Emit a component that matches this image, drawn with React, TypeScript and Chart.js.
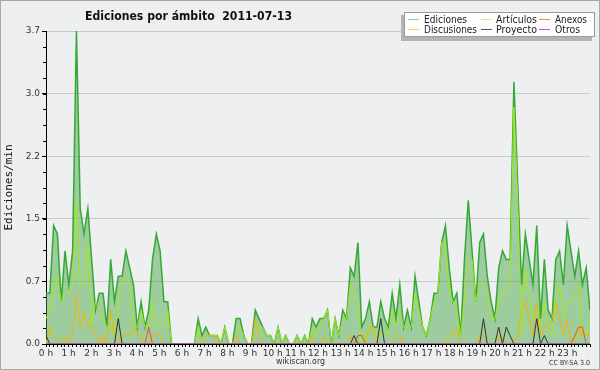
import { useEffect, useRef } from 'react';
import { Chart, registerables } from 'chart.js';
Chart.register(...registerables);

const TITLE = 'Ediciones por ámbito  2011-07-13';
const Y_LABEL = 'Ediciones/min';
const HOUR_LABELS = Array.from({ length: 24 }, (_, h) => `${h} h`);
const Y_TICKS = [0, 0.74, 1.48, 2.22, 2.96, 3.7];
const Y_MAX = 3.7;

const EDICIONES = [
  0.6, 0.6, 1.4, 1.3, 0.5, 1.1, 0.7, 1.1, 3.7, 1.6, 1.3, 1.6, 1.0, 0.4, 0.6, 0.6, 0.2, 1.0, 0.5, 0.8, 0.8, 1.1, 0.9, 0.7,
  0.2, 0.5, 0.2, 0.4, 1.0, 1.3, 1.1, 0.5, 0.5, 0, 0, 0, 0, 0, 0, 0, 0.3, 0.1, 0.2, 0.1, 0.1, 0.1, 0, 0.2,
  0, 0, 0.3, 0.3, 0.1, 0, 0, 0.4, 0.3, 0.2, 0.1, 0.1, 0, 0.2, 0, 0.1, 0, 0, 0.1, 0, 0.1, 0, 0.3, 0.2,
  0.3, 0.3, 0.4, 0, 0.3, 0.1, 0.4, 0.3, 0.9, 0.8, 1.2, 0.2, 0.3, 0.5, 0.2, 0.2, 0.5, 0.3, 0.2, 0.6, 0.3, 0.7,
  0.2, 0.4, 0.2, 0.8, 0.5, 0.2, 0.1, 0.3, 0.6, 0.6, 1.2, 1.4, 0.9, 0.5, 0.6, 0.1, 1.0, 1.7, 1.1, 0.5, 1.2, 1.3,
  0.8, 0.5, 0.3, 0.9, 1.1, 1.0, 1.0, 3.1, 1.9, 0.7, 1.3, 1.0, 0.7, 1.4, 0.3, 1.0, 0.4, 0.3, 1.0, 1.1, 0.7, 1.4,
  1.1, 0.8, 1.1, 0.7, 0.9, 0.4,
];
const ARTICULOS = [
  0.3, 0.4, 0.6, 0.8, 0.5, 0.6, 0.6, 0.7, 1.7, 0.7, 0.7, 1.2, 0.2, 0.5, 0.4, 0.3, 0.2, 0.2, 0.1, 0.5, 0.7, 0.8, 0.7, 0.2,
  0.2, 0.4, 0.2, 0.2, 0.5, 0.2, 0.2, 0.2, 0.4, 0, 0, 0, 0, 0, 0, 0, 0.2, 0, 0.1, 0.1, 0.1, 0.1, 0, 0.2,
  0, 0, 0.1, 0.2, 0.1, 0, 0, 0.1, 0.2, 0.2, 0.1, 0.1, 0, 0.2, 0, 0.1, 0, 0, 0.1, 0, 0.1, 0, 0.2, 0.1,
  0.2, 0.3, 0.4, 0, 0.3, 0.1, 0.3, 0.3, 0.7, 0.6, 0.4, 0, 0.1, 0.2, 0.2, 0.1, 0.1, 0.2, 0.1, 0.4, 0.2, 0.4,
  0.2, 0.2, 0.2, 0.6, 0.4, 0.2, 0.1, 0.3, 0.5, 0.6, 1.2, 1.2, 0.6, 0.5, 0.4, 0.1, 0.5, 1.0, 1.0, 0.5, 0.7, 0.7,
  0.6, 0.3, 0.3, 0.5, 0.6, 0.6, 0.8, 2.8, 1.7, 0.1, 0.9, 0.5, 0.3, 0.4, 0.2, 0.5, 0.2, 0.1, 0.4, 0.7, 0.3, 0.5,
  0.5, 0.6, 0.7, 0.1, 0.1, 0.3,
];
const DISCUSIONES = [
  0, 0.2, 0.1, 0, 0, 0.1, 0, 0.1, 0.6, 0.2, 0.4, 0.2, 0.2, 0.1, 0, 0.1, 0, 0.4, 0.1, 0, 0.1, 0.1, 0.1, 0.2,
  0.1, 0.1, 0, 0, 0.1, 0.1, 0.1, 0, 0, 0, 0, 0, 0, 0, 0, 0, 0, 0, 0.1, 0.1, 0.1, 0, 0, 0,
  0, 0, 0.1, 0, 0, 0, 0, 0.3, 0.1, 0, 0, 0, 0, 0, 0, 0, 0, 0, 0, 0, 0, 0, 0.1, 0,
  0, 0.1, 0, 0, 0, 0, 0, 0, 0.1, 0, 0, 0, 0, 0.2, 0.2, 0, 0, 0, 0, 0, 0.1, 0.1,
  0, 0, 0, 0, 0, 0, 0, 0, 0, 0, 0, 0, 0.1, 0.1, 0.2, 0, 0, 0, 0, 0, 0.1, 0.1,
  0, 0, 0, 0.1, 0.1, 0, 0, 0, 0.1, 0.4, 0.5, 0.3, 0.1, 0.5, 0.1, 0.2, 0.2, 0.3, 0.5, 0.3, 0.1, 0.3,
  0, 0, 0.2, 0.1, 0.1, 0.1,
];
const PROYECTO = [
  0.1, 0, 0, 0, 0, 0, 0, 0, 0, 0, 0, 0, 0, 0, 0, 0, 0, 0, 0, 0.3, 0, 0, 0, 0,
  0, 0, 0, 0, 0, 0, 0, 0, 0, 0, 0, 0, 0, 0, 0, 0, 0, 0, 0, 0, 0, 0, 0, 0,
  0, 0, 0, 0, 0, 0, 0, 0, 0, 0, 0, 0, 0, 0, 0, 0, 0, 0, 0, 0, 0, 0, 0, 0,
  0, 0, 0, 0, 0, 0, 0, 0, 0, 0.1, 0, 0, 0, 0, 0, 0, 0.3, 0, 0, 0, 0, 0,
  0, 0, 0, 0, 0, 0, 0, 0, 0, 0, 0, 0, 0, 0, 0, 0, 0, 0, 0, 0, 0, 0.3,
  0, 0, 0, 0.2, 0, 0.2, 0.1, 0, 0, 0, 0, 0, 0, 0.3, 0, 0.1, 0, 0, 0, 0, 0, 0,
  0, 0, 0, 0, 0, 0,
];
const ANEXOS = [
  0, 0, 0, 0, 0, 0, 0, 0, 0, 0, 0, 0, 0, 0, 0, 0, 0, 0, 0, 0, 0, 0, 0, 0,
  0, 0, 0, 0.2, 0, 0, 0, 0, 0, 0, 0, 0, 0, 0, 0, 0, 0, 0, 0, 0, 0, 0, 0, 0,
  0, 0, 0, 0, 0, 0, 0, 0, 0, 0, 0, 0, 0, 0, 0, 0, 0, 0, 0, 0, 0, 0, 0, 0,
  0, 0, 0, 0, 0, 0, 0, 0, 0, 0, 0.1, 0.1, 0, 0, 0, 0, 0, 0, 0, 0, 0, 0,
  0, 0, 0, 0, 0, 0, 0, 0, 0, 0, 0, 0, 0, 0, 0, 0, 0, 0, 0, 0, 0, 0,
  0, 0, 0, 0, 0, 0, 0, 0, 0, 0, 0, 0, 0, 0, 0, 0, 0, 0, 0, 0, 0, 0,
  0, 0.1, 0.2, 0.2, 0, 0,
];
const OTROS = new Array(144).fill(0);

const LEGEND = [
  { label: 'Ediciones', color: '#8fd08f', col: 0, row: 0 },
  { label: 'Artículos', color: '#d4f07a', col: 1, row: 0 },
  { label: 'Anexos', color: '#f08a5a', col: 2, row: 0 },
  { label: 'Discusiones', color: '#f8d050', col: 0, row: 1 },
  { label: 'Proyecto', color: '#555555', col: 1, row: 1 },
  { label: 'Otros', color: '#a060f0', col: 2, row: 1 },
];

const BG = '#eeeff0';

function toPoints(arr: number[]) {
  const n = arr.length;
  return arr.map((v, i) => ({ x: (i * 24) / (n - 1), y: v }));
}

function fitText(ctx: CanvasRenderingContext2D, text: string, x: number, y: number, w: number) {
  const m = ctx.measureText(text).width;
  const s = w / m;
  ctx.save();
  ctx.translate(x, y);
  ctx.scale(s, 1);
  ctx.fillText(text, 0, 0);
  ctx.restore();
}

const decorPlugin = {
  id: 'decor',
  beforeDraw(chart: any) {
    const ctx = chart.ctx as CanvasRenderingContext2D;
    ctx.save();
    ctx.fillStyle = BG;
    ctx.fillRect(0, 0, chart.width, chart.height);
    ctx.strokeStyle = '#a8a8a8';
    ctx.lineWidth = 1;
    ctx.strokeRect(0.5, 0.5, chart.width - 1, chart.height - 1);
    ctx.restore();
  },
  afterDraw(chart: any) {
    const ctx = chart.ctx as CanvasRenderingContext2D;
    const ys = chart.scales.y;
    const left = chart.chartArea.left;
    ctx.save();
    // minor y ticks
    ctx.strokeStyle = '#000';
    ctx.lineWidth = 1;
    for (let k = 0; k <= 20; k++) {
      const py = Math.round(ys.getPixelForValue((k * Y_MAX) / 20)) + 0.5;
      ctx.beginPath();
      ctx.moveTo(left - 3, py);
      ctx.lineTo(left, py);
      ctx.stroke();
    }
    // title
    ctx.fillStyle = '#111';
    ctx.textBaseline = 'alphabetic';
    ctx.font = 'bold 13px "DejaVu Sans Condensed", "DejaVu Sans", sans-serif';
    fitText(ctx, TITLE, 85, 19.5, 207);
    // legend box
    ctx.fillStyle = '#b4b4b4';
    ctx.fillRect(401, 15, 191, 26);
    ctx.fillStyle = '#fdfdfd';
    ctx.fillRect(404, 12, 191, 25);
    ctx.strokeStyle = '#9a9a9a';
    ctx.strokeRect(404.5, 12.5, 190, 24);
    const colX = [408, 481, 539];
    const textX = [424, 496, 555];
    const textW = [
      [43, 41, 32],
      [53, 41, 25],
    ];
    const rowY = [19.5, 29.5];
    ctx.font = '10px "DejaVu Sans Condensed", "DejaVu Sans", sans-serif';
    LEGEND.forEach((e) => {
      ctx.strokeStyle = e.color;
      ctx.lineWidth = 1;
      ctx.beginPath();
      ctx.moveTo(colX[e.col], rowY[e.row]);
      ctx.lineTo(colX[e.col] + 11, rowY[e.row]);
      ctx.stroke();
      ctx.fillStyle = '#222';
      fitText(ctx, e.label, textX[e.col], rowY[e.row] + 3.5, textW[e.row][e.col]);
    });
    // footer
    ctx.fillStyle = '#333';
    ctx.font = '9.5px "DejaVu Sans", sans-serif';
    fitText(ctx, 'wikiscan.org', 276, 364, 49);
    ctx.font = '7px "DejaVu Sans", sans-serif';
    fitText(ctx, 'CC BY-SA 3.0', 549, 365, 41);
    ctx.restore();
  },
};

export default function App() {
  const ref = useRef<HTMLCanvasElement | null>(null);
  useEffect(() => {
    if (!ref.current) return;
    const line = (label: string, arr: number[], color: string, order: number, extra: any = {}) => ({
      label,
      data: toPoints(arr),
      borderColor: color,
      borderWidth: 1,
      pointRadius: 0,
      tension: 0,
      fill: false,
      order,
      ...extra,
    });
    const chart = new Chart(ref.current, {
      type: 'line',
      data: {
        datasets: [
          line('Ediciones', EDICIONES, '#35a835', 6, {
            fill: 'origin',
            backgroundColor: 'rgba(70,165,70,0.48)',
            borderWidth: 1.5,
          }),
          line('Artículos', ARTICULOS, '#a6e81a', 5),
          line('Discusiones', DISCUSIONES, '#f2b600', 4),
          line('Proyecto', PROYECTO, '#333333', 3),
          line('Anexos', ANEXOS, '#e85420', 2),
          line('Otros', OTROS, '#9955ee', 1),
        ],
      },
      options: {
        animation: false,
        responsive: false,
        maintainAspectRatio: false,
        devicePixelRatio: 1,
        layout: { padding: { top: 31, right: 10, left: 0, bottom: 0 } },
        plugins: { legend: { display: false }, title: { display: false }, tooltip: { enabled: false } },
        scales: {
          x: {
            type: 'linear',
            min: 0,
            max: 24,
            z: 1,
            afterBuildTicks: (s: any) => {
              s.ticks = Array.from({ length: 145 }, (_, k) => ({ value: k / 6 }));
            },
            afterFit: (s: any) => {
              s.height = 26;
            },
            ticks: {
              autoSkip: false,
              maxRotation: 0,
              minRotation: 0,
              padding: 1,
              color: '#333',
              font: { size: 9, family: '"DejaVu Sans", sans-serif' },
              callback: (v: any) => {
                const h = Math.round(v);
                return Math.abs(v - h) < 1e-6 && h < 24 ? HOUR_LABELS[h] : '';
              },
            },
            grid: { drawOnChartArea: false, tickLength: 3, color: '#000', lineWidth: 1 },
            border: { color: '#000', width: 1 },
          },
          y: {
            min: 0,
            max: Y_MAX,
            afterBuildTicks: (s: any) => {
              s.ticks = Y_TICKS.map((v) => ({ value: v }));
            },
            afterFit: (s: any) => {
              s.width = 46;
            },
            ticks: {
              padding: 2,
              color: '#333',
              font: { size: 9, family: '"DejaVu Sans", sans-serif' },
              callback: (v: any) => Number(v).toFixed(1),
            },
            grid: {
              color: (c: any) => (c.tick && c.tick.value === 0 ? 'rgba(0,0,0,0)' : '#cbcbcb'),
              tickColor: '#000',
              tickLength: 4,
              lineWidth: 1,
            },
            border: { color: '#000', width: 1 },
            title: {
              display: true,
              text: Y_LABEL,
              color: '#111',
              padding: { top: 3, bottom: 0 },
              font: { size: 11, family: '"DejaVu Sans Mono", monospace' },
            },
          },
        },
      },
      plugins: [decorPlugin],
    } as any);
    return () => chart.destroy();
  }, []);
  return (
    <div style={{ position: 'fixed', left: 0, top: 0, width: 600, height: 370 }}>
      <canvas ref={ref} width={600} height={370} style={{ width: 600, height: 370, display: 'block' }} />
    </div>
  );
}
